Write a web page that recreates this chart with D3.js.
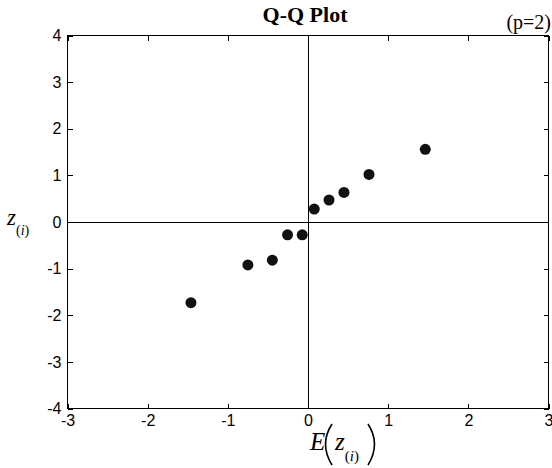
<!DOCTYPE html>
<html>
<head>
<meta charset="utf-8">
<script src="https://cdn.jsdelivr.net/npm/d3@7"></script>
<style>
  body { margin: 0; background: #fff; }
  svg { display: block; }
  .tick text { font-family: "Liberation Sans", Arial, sans-serif; font-size: 16px; fill: #000; }
  .tick line { stroke: #000; shape-rendering: crispEdges; }
</style>
</head>
<body>
<div id="chart"></div>
<script>
// expected normal scores vs ordered sample values
const expected = [-1.46, -0.75, -0.445, -0.255, -0.072, 0.078, 0.262, 0.449, 0.761, 1.463];
const observed = [-1.73, -0.92, -0.82, -0.275, -0.275, 0.277, 0.472, 0.634, 1.02, 1.56];
const xTicks = [-3, -2, -1, 0, 1, 2, 3];
const yTicks = [-4, -3, -2, -1, 0, 1, 2, 3, 4];

const width = 552, height = 468;
const box = { left: 67.5, right: 548.5, top: 35.5, bottom: 408.5 };
const serif = "'Liberation Serif', 'Times New Roman', serif";
const plain = d => String(d);

const svg = d3.select("#chart").append("svg")
  .attr("width", width)
  .attr("height", height);

const x = d3.scaleLinear().domain([-3, 3]).range([box.left, box.right]);
const y = d3.scaleLinear().domain([-4, 4]).range([box.bottom, box.top]);

// frame
svg.append("rect")
  .attr("x", box.left).attr("y", box.top)
  .attr("width", box.right - box.left).attr("height", box.bottom - box.top)
  .attr("fill", "none").attr("stroke", "#000");

// axes, ticks pointing inward
svg.append("g")
  .attr("transform", `translate(0,${box.bottom})`)
  .call(d3.axisBottom(x).tickValues(xTicks).tickSizeInner(-5).tickSizeOuter(0).tickPadding(6).tickFormat(plain));
svg.append("g")
  .attr("transform", `translate(0,${box.top})`)
  .call(d3.axisTop(x).tickValues(xTicks).tickSizeInner(-5).tickSizeOuter(0).tickFormat(""));
svg.append("g")
  .attr("transform", `translate(${box.left},0)`)
  .call(d3.axisLeft(y).tickValues(yTicks).tickSizeInner(-5).tickSizeOuter(0).tickPadding(6).tickFormat(plain));
svg.append("g")
  .attr("transform", `translate(${box.right},0)`)
  .call(d3.axisRight(y).tickValues(yTicks).tickSizeInner(-5).tickSizeOuter(0).tickFormat(""));

svg.selectAll(".domain").remove();

// zero lines
svg.append("line")
  .attr("x1", Math.round(x(0)) + 0.5).attr("x2", Math.round(x(0)) + 0.5)
  .attr("y1", box.top).attr("y2", box.bottom)
  .attr("stroke", "#000");
svg.append("line")
  .attr("x1", box.left).attr("x2", box.right)
  .attr("y1", Math.round(y(0)) + 0.5).attr("y2", Math.round(y(0)) + 0.5)
  .attr("stroke", "#000");

// points
svg.append("g").selectAll("circle")
  .data(expected.map((e, i) => [e, observed[i]]))
  .join("circle")
  .attr("cx", d => x(d[0]))
  .attr("cy", d => y(d[1]))
  .attr("r", 5.5)
  .attr("fill", "#111");

// title
svg.append("text")
  .attr("x", 305).attr("y", 22)
  .attr("text-anchor", "middle")
  .attr("font-family", serif)
  .attr("font-weight", "bold")
  .attr("font-size", 22)
  .text("Q-Q Plot");

svg.append("text")
  .attr("x", 551).attr("y", 29)
  .attr("text-anchor", "end")
  .attr("font-family", serif)
  .attr("font-size", 20)
  .text("(p=2)");

// y label: z_(i)
const yl = svg.append("text")
  .attr("x", 7).attr("y", 225)
  .attr("font-family", serif);
yl.append("tspan").attr("font-style", "italic").attr("font-size", 23).text("z");
yl.append("tspan").attr("font-size", 14).attr("dy", 10).text("(");
yl.append("tspan").attr("font-size", 14).attr("font-style", "italic").text("i");
yl.append("tspan").attr("font-size", 14).text(")");

// x label: E( z_(i) )
svg.append("text")
  .attr("x", 310).attr("y", 450)
  .attr("font-family", serif)
  .attr("font-style", "italic")
  .attr("font-size", 25)
  .text("E");

svg.append("path")
  .attr("d", "M332,424 Q319,444 332,465")
  .attr("fill", "none").attr("stroke", "#000").attr("stroke-width", 1.6);
svg.append("path")
  .attr("d", "M368,424 Q381,444 368,465")
  .attr("fill", "none").attr("stroke", "#000").attr("stroke-width", 1.6);

const xl = svg.append("text")
  .attr("x", 335).attr("y", 450)
  .attr("font-family", serif);
xl.append("tspan").attr("font-style", "italic").attr("font-size", 25).text("z");
xl.append("tspan").attr("font-size", 15).attr("dy", 11).text("(");
xl.append("tspan").attr("font-size", 15).attr("font-style", "italic").text("i");
xl.append("tspan").attr("font-size", 15).text(")");
</script>
</body>
</html>
